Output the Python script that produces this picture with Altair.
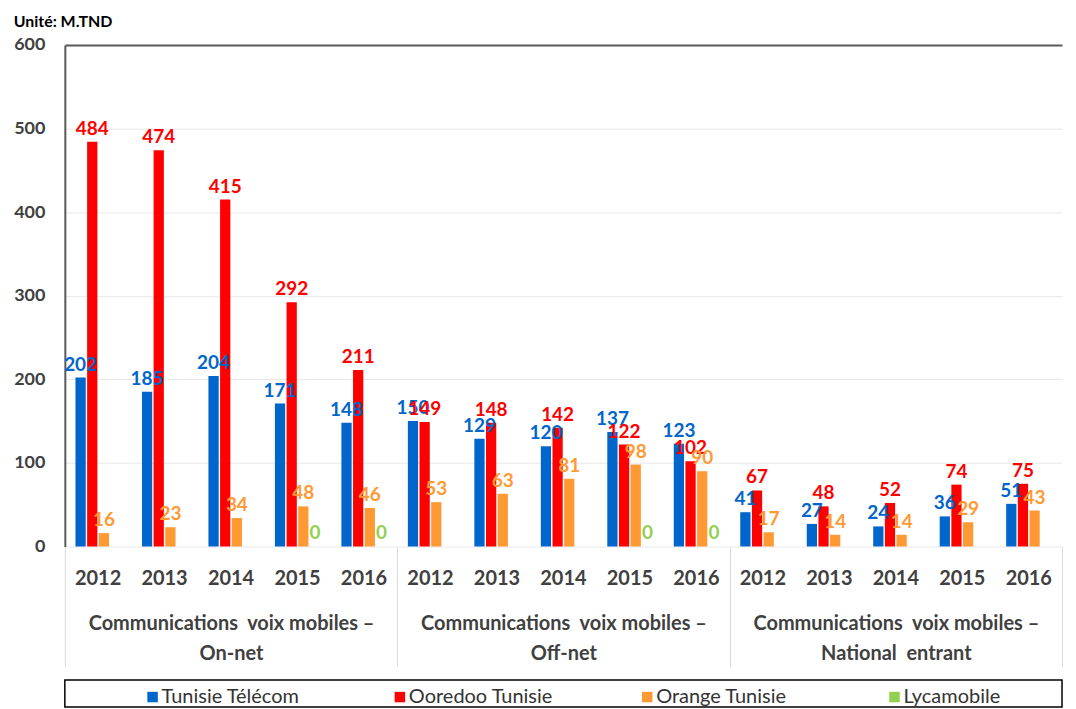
import altair as alt
import pandas as pd

FONT = "Lato"

groups = ["On-net", "Off-net", "National entrant"]
group_labels = [
    "Communications\u00a0 voix mobiles –|On-net",
    "Communications\u00a0 voix mobiles –|Off-net",
    "Communications\u00a0 voix mobiles –|National\u00a0 entrant",
]
years = ["2012", "2013", "2014", "2015", "2016"]
operators = ["Tunisie Télécom", "Ooredoo Tunisie", "Orange Tunisie", "Lycamobile"]
colors = ["#0066CC", "#FF0000", "#FF9933", "#92D050"]

# values per group (On-net, Off-net, National entrant), per year 2012..2016
tunisie_telecom = [[202, 185, 204, 171, 148], [150, 129, 120, 137, 123], [41, 27, 24, 36, 51]]
ooredoo = [[484, 474, 415, 292, 211], [149, 148, 142, 122, 102], [67, 48, 52, 74, 75]]
orange = [[16, 23, 34, 48, 46], [53, 63, 81, 98, 90], [17, 14, 14, 29, 43]]
lycamobile = [[None, None, None, 0, 0], [None, None, None, 0, 0], [None, None, None, None, None]]

series = [tunisie_telecom, ooredoo, orange, lycamobile]

rows = []
slots = []
for gi, g in enumerate(groups):
    for yi, y in enumerate(years):
        slot = f"{g} {y}"
        slots.append(slot)
        for oi, op in enumerate(operators):
            v = series[oi][gi][yi]
            if v is not None:
                rows.append({"slot": slot, "operator": op, "value": v})
df = pd.DataFrame(rows)
gdf = pd.DataFrame({"group": group_labels})
ldf = pd.DataFrame({"operator": operators})

color_scale = alt.Scale(domain=operators, range=colors)

x_slot = alt.X(
    "slot:N",
    sort=slots,
    scale=alt.Scale(domain=slots, paddingInner=0.32, paddingOuter=0.16),
    axis=alt.Axis(
        title=None, domain=False, ticks=False, grid=False, labelAngle=0,
        labelExpr="slice(datum.label, -4)", labelPadding=22,
        labelFont=FONT, labelFontSize=20, labelFontWeight="bold", labelColor="#404040",
    ),
)
x_off = alt.XOffset("operator:N", sort=operators,
                    scale=alt.Scale(domain=operators, paddingInner=0.12, paddingOuter=0))
y_val = alt.Y(
    "value:Q",
    scale=alt.Scale(domain=[0, 600], nice=False),
    axis=alt.Axis(
        title=None, values=[0, 100, 200, 300, 400, 500, 600], ticks=False,
        domain=True, domainColor="#595959", domainWidth=2,
        gridColor={"condition": {"test": "datum.value === 600", "value": "#595959"}, "value": "#e8e8e8"},
        gridWidth={"condition": {"test": "datum.value === 600", "value": 2}, "value": 1},
        labelPadding=20, labelFont=FONT, labelFontSize=18, labelFontWeight="bold", labelColor="#404040",
    ),
)

bars = alt.Chart(df).mark_bar().encode(
    x=x_slot, xOffset=x_off, y=y_val,
    color=alt.Color("operator:N", scale=color_scale, legend=None),
)
labels = alt.Chart(df).mark_text(
    baseline="bottom", dy=-3, font=FONT, fontSize=19, fontWeight="bold"
).encode(
    x=x_slot, xOffset=x_off, y=y_val,
    text=alt.Text("value:Q"),
    color=alt.Color("operator:N", scale=color_scale, legend=None),
)

sep = alt.Chart(gdf).mark_rule(opacity=0).encode(
    x=alt.X(
        "group:N", sort=group_labels,
        scale=alt.Scale(paddingInner=0, paddingOuter=0),
        axis=alt.Axis(
            title=None, orient="bottom", domain=False, grid=False, labelAngle=0,
            ticks=True, tickBand="extent", tickSize=120, tickColor="#d9d9d9", tickWidth=1,
            labelExpr="split(datum.label, '|')", labelPadding=-53, labelBaseline="top",
            labelLineHeight=30, labelLimit=500, labelOverlap=False,
            labelFont=FONT, labelFontSize=20, labelFontWeight="bold", labelColor="#404040",
        ),
    )
)

main = alt.layer(alt.layer(bars, labels), sep).resolve_scale(x="independent").properties(
    width=1000, height=503,
    title=alt.TitleParams("Unité: M.TND", anchor="start", frame="bounds", font=FONT,
                          fontSize=16, fontWeight="bold", color="#000000", offset=6),
)

leg_x = alt.X("operator:N", sort=operators,
              scale=alt.Scale(type="point", domain=operators, range=[88, 832], padding=0),
              axis=None)
leg_sq = alt.Chart(ldf).mark_square(size=110, opacity=1).encode(
    x=leg_x, y=alt.value(17),
    color=alt.Color("operator:N", scale=color_scale, legend=None),
)
leg_tx = alt.Chart(ldf).mark_text(align="left", baseline="middle", dx=9, font=FONT,
                                  fontSize=20, color="#333333").encode(
    x=leg_x, y=alt.value(17), text="operator:N",
)
legend_panel = alt.layer(leg_sq, leg_tx).properties(
    width=1000, height=27,
    view=alt.ViewBackground(stroke="#000000", strokeWidth=1.5),
)

chart = alt.vconcat(main, legend_panel, spacing=12).configure(
    font=FONT, background="white"
).configure_view(strokeWidth=0)

chart.save("out.html", embed_options={"renderer": "svg", "actions": False})
